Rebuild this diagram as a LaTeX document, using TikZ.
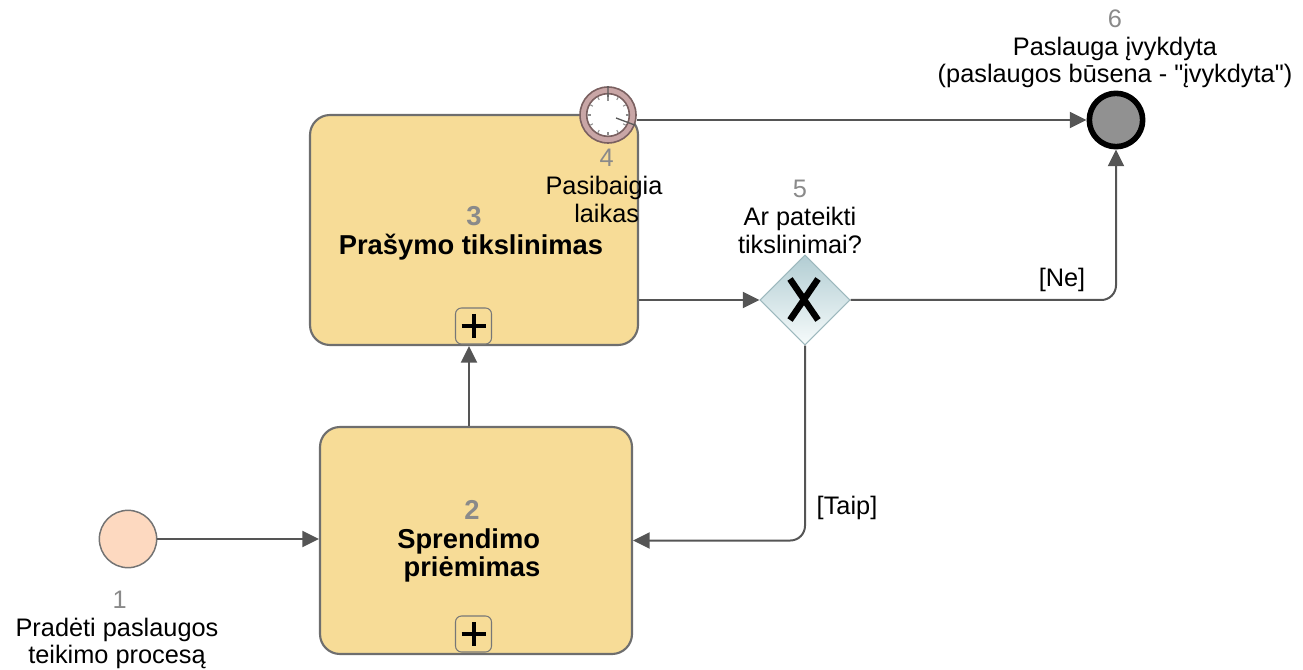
\documentclass[tikz,border=0pt]{standalone}
\usepackage{fontspec}
\setmainfont{Liberation Sans}
\newfontfamily\plainquote{Liberation Sans}
\usetikzlibrary{arrows.meta,shapes.geometric,calc}
\definecolor{taskfill}{HTML}{F7DC97}
\definecolor{edgegray}{HTML}{555555}
\definecolor{numgray}{HTML}{8A8A8A}
\definecolor{startfill}{HTML}{FDD9C0}
\definecolor{gwtop}{HTML}{B2CDD3}
\definecolor{gwbot}{HTML}{F6FBFB}
\definecolor{gwedge}{HTML}{9DB8BD}
\definecolor{clkring}{HTML}{C9A6A6}
\definecolor{clkedge}{HTML}{7A6060}
\tikzset{
  taskbox/.style={draw=edgegray!85,line width=1.6pt,fill=taskfill,rounded corners=15pt,inner sep=0pt,align=center,font=\fontsize{20.5}{21.3}\selectfont\bfseries},
  flow/.style={draw=edgegray,line width=1.5pt,-{Triangle[length=12.5pt,width=12pt]},rounded corners=11pt},
  lbl/.style={inner sep=0pt,align=center,font=\fontsize{19}{20.8}\selectfont,text=black},
  plusbox/.style={draw=edgegray!80,line width=.8pt,rounded corners=4.5pt,fill=taskfill,minimum size=27pt,inner sep=0pt},
  plussign/.style={line width=3pt,black},
  ticker/.style={line width=.8pt,black!45},
}
\newcommand{\numtxt}[1]{\textcolor{numgray}{#1}}
\begin{document}
\begin{tikzpicture}[x=.75pt,y=-.75pt]
\useasboundingbox (0,0) rectangle (1303,670);
% tasks
\node[taskbox,minimum width=246pt,minimum height=172.5pt] (t3) at (474,230) {\rule{0pt}{19.3pt}\numtxt{3}\\Prašymo tikslinimas\hspace*{4.5pt}};
\node[taskbox,minimum width=234pt,minimum height=170.25pt] (t2) at (476,540.5) {\rule{0pt}{16pt}\hbox{\numtxt{2}\kern 6pt}\\\hbox{Sprendimo\kern 11pt}\\\hbox{priėmimas\kern 6pt}};
\node[plusbox] (p3) at (473.5,326) {};
\node[plusbox] (p2) at (473.5,634) {};
\foreach \p in {p2,p3}{
  \draw[plussign] ($(\p)+(-12,0)$) -- ($(\p)+(12,0)$);
  \draw[plussign] ($(\p)+(0,-12)$) -- ($(\p)+(0,12)$);
}
% events
\node[circle,draw=black!55,line width=1.1pt,fill=startfill,minimum size=43pt,inner sep=0pt] (start) at (128,539) {};
\node[circle,draw=black,line width=4.2pt,fill=black!43,minimum size=40pt,inner sep=0pt] (end) at (1116,120) {};
% gateway
\node[diamond,aspect=1,draw=gwedge,line width=.8pt,top color=gwtop,bottom color=gwbot,minimum width=67.5pt,minimum height=67.5pt,inner sep=0pt] (gw) at (805,300) {};
\draw[line width=4.8pt,black] ($(gw)+(-15,-21)$) -- ($(gw)+(13,20)$);
\draw[line width=4.8pt,black] ($(gw)+(13,-21)$) -- ($(gw)+(-15,20)$);
% timer
\node[circle,draw=clkedge,line width=1.2pt,fill=clkring,minimum size=42pt,inner sep=0pt] (clk) at (608,115) {};
\node[circle,draw=clkedge,line width=1.2pt,fill=white,minimum size=32pt,inner sep=0pt] (face) at (clk) {};
\foreach \a in {0,30,...,330}{
  \draw[ticker] ($(clk)+(\a:17.5)$) -- ($(clk)+(\a:20.5)$);
}
\draw[line width=1pt,black!65] ($(clk)+(0,-14)$) -- (clk) -- ($(clk)+(8,3)$);
% connectors
\coordinate (upx) at (469,0);
\draw[flow] (start) -- (t2.west |- start);
\draw[flow] (t2.north -| upx) -- (t3.south -| upx);
\draw[flow] (t3.east |- gw) -- (gw.west);
\draw[flow] (clk.east |- end) -- (end.west);
\draw[flow] (gw.east) -- (gw.east -| end) -- (end.south);
\draw[flow] (gw.south) -- (gw.south |- t2) -- (t2.east);
% labels
\node[lbl] (l1) at (117,630) {\hspace*{4pt}\numtxt{1}\\Pradėti paslaugos\\teikimo procesą};
\node[lbl] (l4) at (604,186) {\hspace*{4pt}\numtxt{4}\\Pasibaigia\\\hspace*{4pt}laikas};
\node[lbl] (l5) at (800,217) {\numtxt{5}\\Ar pateikti\\tikslinimai?};
\node[lbl] (l6) at (1115,49) {\numtxt{6}\\Paslauga įvykdyta\\(paslaugos būsena - {\plainquote"}įvykdyta{\plainquote"})};
\node[lbl] (ne) at (1062,280) {[Ne]};
\node[lbl] (taip) at (847,508) {[Taip]};
\end{tikzpicture}
\end{document}
